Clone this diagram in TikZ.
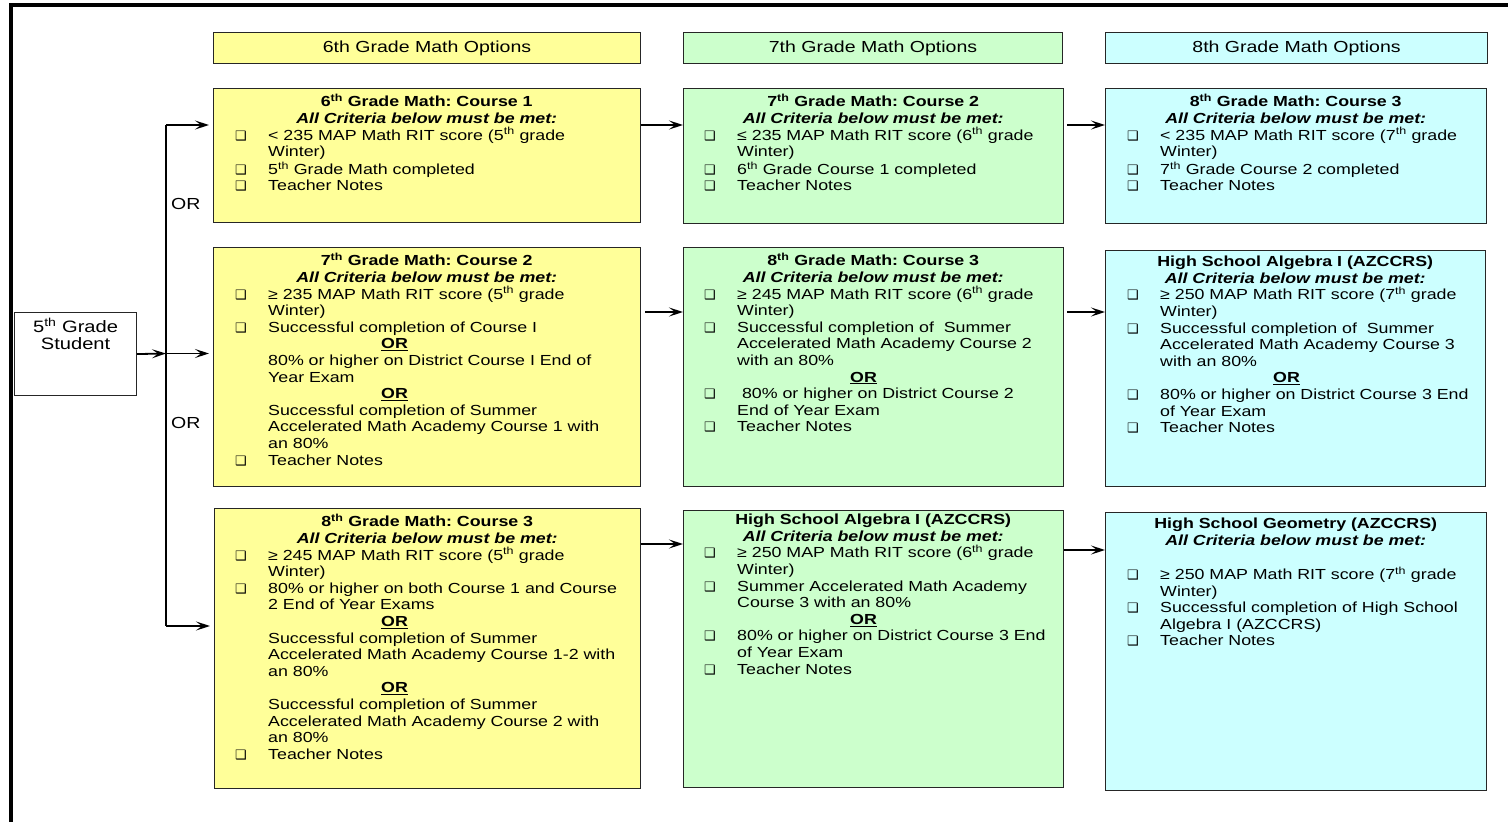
\documentclass[tikz,border=0pt]{standalone}
\usepackage{fontspec}
\setmainfont{Liberation Sans}[FakeStretch=1.22]
\newfontfamily\dingfont{DejaVu Sans}
\usetikzlibrary{arrows.meta}
\definecolor{yel}{HTML}{FFFF99}
\definecolor{grn}{HTML}{CCFFCC}
\definecolor{cyn}{HTML}{CCFFFF}
\setlength{\parindent}{0pt}
\frenchspacing
\newcommand\mybox{{\dingfont\fontsize{13}{13}\selectfont ❑}}
\newcommand\myor{\hspace*{113pt}\underline{\textbf{OR}}}
\newcommand\sth{\textsuperscript{th}}
\newcommand\ttl[1]{{\centering\textbf{#1}\par\textbf{\textit{All Criteria below must be met:}}\par}}
\tikzset{
  hdr/.style={draw=black!85, line width=1.1pt, minimum height=31pt, inner sep=0pt, anchor=north west, font=\fontsize{16}{18}\selectfont},
  cbox/.style={draw=black!85, line width=1.1pt, anchor=north west, inner sep=0pt},
  body/.style={anchor=north west, inner sep=0pt, align=left, font=\fontsize{14.6}{16.6}\selectfont\frenchspacing},
  arr/.style={line width=1.8pt, -{Stealth[length=14pt,width=9pt,inset=6pt]}},
  bus/.style={line width=1.8pt},
  orlbl/.style={anchor=west, inner sep=0pt, font=\fontsize{16}{18}\selectfont}
}
\begin{document}
\begin{tikzpicture}[x=1pt,y=-1pt]
\useasboundingbox (0,0) rectangle (1508,822);
\fill[white] (0,0) rectangle (1508,822);
\draw[line width=3.5pt] (11,822) -- (11,5) -- (1508,5);

% headers
\node[hdr, fill=yel, minimum width=427pt] (h1) at (213,32) {6th Grade Math Options};
\node[hdr, fill=grn, minimum width=379pt] (h2) at (683,32) {7th Grade Math Options};
\node[hdr, fill=cyn, minimum width=382pt] (h3) at (1105,32) {8th Grade Math Options};

% boxes
\node[cbox, fill=yel, minimum width=427pt, minimum height=134pt] (c11) at (213,88) {};
\node[cbox, fill=grn, minimum width=380pt, minimum height=135pt] (c12) at (683,88) {};
\node[cbox, fill=cyn, minimum width=381pt, minimum height=135pt] (c13) at (1105,88) {};
\node[cbox, fill=yel, minimum width=427pt, minimum height=239pt] (c21) at (213,247) {};
\node[cbox, fill=grn, minimum width=380pt, minimum height=239pt] (c22) at (683,247) {};
\node[cbox, fill=cyn, minimum width=380pt, minimum height=236pt] (c23) at (1105,250) {};
\node[cbox, fill=yel, minimum width=426pt, minimum height=280pt] (c31) at (214,508) {};
\node[cbox, fill=grn, minimum width=380pt, minimum height=277pt] (c32) at (683,510) {};
\node[cbox, fill=cyn, minimum width=381pt, minimum height=278pt] (c33) at (1105,512) {};

% texts column 1
\node[body, text width=427pt] (t11) at ([yshift=-6pt]c11.north west) {\ttl{6\sth{} Grade Math: Course 1}%
\hspace*{22pt}\begin{tabular}[t]{@{}p{33pt}@{}l@{}}
\mybox & < 235 MAP Math RIT score (5\sth{} grade\\
 & Winter)\\
\mybox & 5\sth{} Grade Math completed\\
\mybox & Teacher Notes
\end{tabular}};

\node[body, text width=427pt] (t21) at ([yshift=-6pt]c21.north west) {\ttl{7\sth{} Grade Math: Course 2}%
\hspace*{22pt}\begin{tabular}[t]{@{}p{33pt}@{}l@{}}
\mybox & ≥ 235 MAP Math RIT score (5\sth{} grade\\
 & Winter)\\
\mybox & Successful completion of Course I\\
 & \myor\\
 & 80\% or higher on District Course I End of\\
 & Year Exam\\
 & \myor\\
 & Successful completion of Summer\\
 & Accelerated Math Academy Course 1 with\\
 & an 80\%\\
\mybox & Teacher Notes
\end{tabular}};

\node[body, text width=426pt] (t31) at ([yshift=-6pt]c31.north west) {\ttl{8\sth{} Grade Math: Course 3}%
\hspace*{21pt}\begin{tabular}[t]{@{}p{33pt}@{}l@{}}
\mybox & ≥ 245 MAP Math RIT score (5\sth{} grade\\
 & Winter)\\
\mybox & 80\% or higher on both Course 1 and Course\\
 & 2 End of Year Exams\\
 & \myor\\
 & Successful completion of Summer\\
 & Accelerated Math Academy Course 1-2 with\\
 & an 80\%\\
 & \myor\\
 & Successful completion of Summer\\
 & Accelerated Math Academy Course 2 with\\
 & an 80\%\\
\mybox & Teacher Notes
\end{tabular}};

% texts column 2
\node[body, text width=380pt] (t12) at ([yshift=-6pt]c12.north west) {\ttl{7\sth{} Grade Math: Course 2}%
\hspace*{21pt}\begin{tabular}[t]{@{}p{33pt}@{}l@{}}
\mybox & ≤ 235 MAP Math RIT score (6\sth{} grade\\
 & Winter)\\
\mybox & 6\sth{} Grade Course 1 completed\\
\mybox & Teacher Notes
\end{tabular}};

\node[body, text width=380pt] (t22) at ([yshift=-6pt]c22.north west) {\ttl{8\sth{} Grade Math: Course 3}%
\hspace*{21pt}\begin{tabular}[t]{@{}p{33pt}@{}l@{}}
\mybox & ≥ 245 MAP Math RIT score (6\sth{} grade\\
 & Winter)\\
\mybox & Successful completion of \ Summer\\
 & Accelerated Math Academy Course 2\\
 & with an 80\%\\
 & \myor\\
\mybox & \ 80\% or higher on District Course 2\\
 & End of Year Exam\\
\mybox & Teacher Notes
\end{tabular}};

\node[body, text width=380pt] (t32) at ([yshift=-4pt]c32.north west) {\ttl{High School Algebra I (AZCCRS)}%
\hspace*{21pt}\begin{tabular}[t]{@{}p{33pt}@{}l@{}}
\mybox & ≥ 250 MAP Math RIT score (6\sth{} grade\\
 & Winter)\\
\mybox & Summer Accelerated Math Academy\\
 & Course 3 with an 80\%\\
 & \myor\\
\mybox & 80\% or higher on District Course 3 End\\
 & of Year Exam\\
\mybox & Teacher Notes
\end{tabular}};

% texts column 3
\node[body, text width=381pt] (t13) at ([yshift=-6pt]c13.north west) {\ttl{8\sth{} Grade Math: Course 3}%
\hspace*{22pt}\begin{tabular}[t]{@{}p{33pt}@{}l@{}}
\mybox & < 235 MAP Math RIT score (7\sth{} grade\\
 & Winter)\\
\mybox & 7\sth{} Grade Course 2 completed\\
\mybox & Teacher Notes
\end{tabular}};

\node[body, text width=380pt] (t23) at ([yshift=-6pt]c23.north west) {\ttl{High School Algebra I (AZCCRS)}%
\hspace*{22pt}\begin{tabular}[t]{@{}p{33pt}@{}l@{}}
\mybox & ≥ 250 MAP Math RIT score (7\sth{} grade\\
 & Winter)\\
\mybox & Successful completion of \ Summer\\
 & Accelerated Math Academy Course 3\\
 & with an 80\%\\
 & \myor\\
\mybox & 80\% or higher on District Course 3 End\\
 & of Year Exam\\
\mybox & Teacher Notes
\end{tabular}};

\node[body, text width=381pt] (t33) at ([yshift=-6pt]c33.north west) {\ttl{High School Geometry (AZCCRS)}%
\hspace*{22pt}\begin{tabular}[t]{@{}p{33pt}@{}l@{}}
 & \\
\mybox & ≥ 250 MAP Math RIT score (7\sth{} grade\\
 & Winter)\\
\mybox & Successful completion of High School\\
 & Algebra I (AZCCRS)\\
\mybox & Teacher Notes
\end{tabular}};

% student
\node[draw=black!85, line width=1.1pt, fill=white, minimum width=122pt, minimum height=83pt, anchor=north west, inner sep=0pt] (stud) at (14,312) {};
\node[anchor=north, align=center, inner sep=0pt, font=\fontsize{16.5}{17}\selectfont] (studtxt) at ([yshift=-6pt]stud.north) {5\sth{} Grade\\Student};

% bus
\coordinate (bt) at (166,125);
\coordinate (bm) at (166,353.5);
\coordinate (bb) at (166,626);
\draw[bus] (bt) -- (bb);
\draw[arr] (stud.east) -- (bm);
\draw[arr, shorten >=4pt] (bt) -- (bt -| c11.west);
\draw[arr, shorten >=4pt] (bm) -- (bm -| c21.west);
\draw[arr, shorten >=4pt] (bb) -- (bb -| c31.west);
\node[orlbl] (or1) at (171,204) {OR};
\node[orlbl] (or2) at (171,423) {OR};

% row connectors
\coordinate (y1) at (0,125);
\coordinate (y2) at (0,312);
\coordinate (y3) at (0,544);
\coordinate (y4) at (0,550);
\draw[arr] (c11.east |- y1) -- (c12.west |- y1);
\draw[arr, shorten <=3pt] (c12.east |- y1) -- (c13.west |- y1);
\draw[arr, shorten <=4pt] (c21.east |- y2) -- (c22.west |- y2);
\draw[arr, shorten <=3pt] (c22.east |- y2) -- (c23.west |- y2);
\draw[arr] (c31.east |- y3) -- (c32.west |- y3);
\draw[arr] (c32.east |- y4) -- (c33.west |- y4);
\end{tikzpicture}
\end{document}
